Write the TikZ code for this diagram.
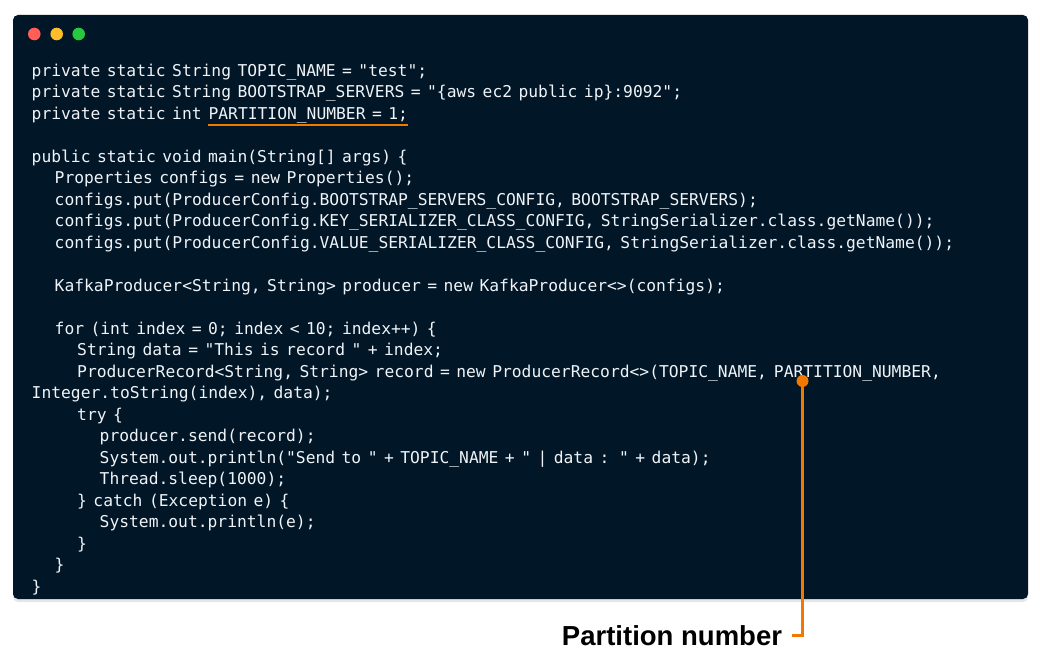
\documentclass[tikz,border=0pt]{standalone}
\usepackage{fontspec}
\setmainfont{Liberation Sans}
\newfontfamily\codefont{DejaVu Sans Mono}[WordSpace=0.66]
\usetikzlibrary{shadows}

\definecolor{night}{HTML}{011627}
\definecolor{codetext}{HTML}{F0F3F7}
\definecolor{marker}{HTML}{F27800}
\definecolor{btnred}{HTML}{FF5F56}
\definecolor{btnyellow}{HTML}{FFBD2E}
\definecolor{btngreen}{HTML}{27C93F}

\tikzstyle{code} = [anchor=base west, inner sep=0pt, text=codetext, font=\codefont\fontsize{16.3}{19}\selectfont]
\tikzstyle{button} = [circle, inner sep=0pt, minimum size=12.6pt]
\tikzstyle{mark line} = [draw=marker, line width=2.9pt]
\tikzstyle{pin dot} = [circle, fill=marker, inner sep=0pt, minimum size=12pt]

\begin{document}
\begin{tikzpicture}[x=1pt,y=-1pt]
      \useasboundingbox (0,0) rectangle (1040,661);
      \fill[night, rounded corners=5pt, drop shadow={shadow xshift=0pt, shadow yshift=-3pt, opacity=0.2}] (13,15) rectangle (1028,599);
      \node[button, fill=btnred] (red) at (34.3,34) {};
      \node[button, fill=btnyellow] (yellow) at (56.7,34) {};
      \node[button, fill=btngreen] (green) at (78.7,34) {};
      % code lines
      \node[code] (l1) at (31.5,76) {private static String TOPIC\_NAME = "test";};
      \node[code] (l2) at (31.5,97.5) {private static String BOOTSTRAP\_SERVERS = "\{aws ec2 public ip\}:9092";};
      \node[code] (l3) at (31.5,119) {private static int};
      \node[code] (part) at ([xshift=6.5pt]l3.base east) {PARTITION\_NUMBER = 1;};
      \node[code] (l5) at (31.5,162) {public static void main(String[] args) \{};
      \node[code] (l6) at (54.5,183.5) {Properties configs = new Properties();};
      \node[code] (l7) at (54.5,205) {configs.put(ProducerConfig.BOOTSTRAP\_SERVERS\_CONFIG, BOOTSTRAP\_SERVERS);};
      \node[code] (l8) at (54.5,226.5) {configs.put(ProducerConfig.KEY\_SERIALIZER\_CLASS\_CONFIG, StringSerializer.class.getName());};
      \node[code] (l9) at (54.5,248) {configs.put(ProducerConfig.VALUE\_SERIALIZER\_CLASS\_CONFIG, StringSerializer.class.getName());};
      \node[code] (l11) at (54.5,291) {KafkaProducer<String, String> producer = new KafkaProducer<>(configs);};
      \node[code] (l13) at (54.5,334) {for (int index = 0; index < 10; index++) \{};
      \node[code] (l14) at (77,355.5) {String data = "This is record " + index;};
      \node[code] (l15) at (77,377) {ProducerRecord<String, String> record = new ProducerRecord<>(TOPIC\_NAME,};
      \node[code] (arg) at ([xshift=6.5pt]l15.base east) {PARTITION\_NUMBER,};
      \node[code] (l16) at (31.5,398.5) {Integer.toString(index), data);};
      \node[code] (l17) at (77,420) {try \{};
      \node[code] (l18) at (99.5,441.5) {producer.send(record);};
      \node[code] (l19) at (99.5,463) {System.out.println("Send to " + TOPIC\_NAME + " | data : " + data);};
      \node[code] (l20) at (99.5,484.5) {Thread.sleep(1000);};
      \node[code] (l21) at (77,506) {\} catch (Exception e) \{};
      \node[code] (l22) at (99.5,527.5) {System.out.println(e);};
      \node[code] (l23) at (77,549) {\}};
      \node[code] (l24) at (54.5,570.5) {\}};
      \node[code] (l25) at (31.5,592) {\}};
      % marker
      \draw[mark line] ([yshift=-6pt]part.base west) -- ([yshift=-6pt]part.base east);
      \node[pin dot] (dot) at (802.5,381) {};
      \node[anchor=base east, inner sep=0pt, outer sep=0pt, outer xsep=10pt, font=\bfseries\fontsize{27.5}{30}\selectfont] (label) at (792,645) {Partition number};
      \draw[mark line] (dot) |- (label.east);
\end{tikzpicture}
\end{document}
